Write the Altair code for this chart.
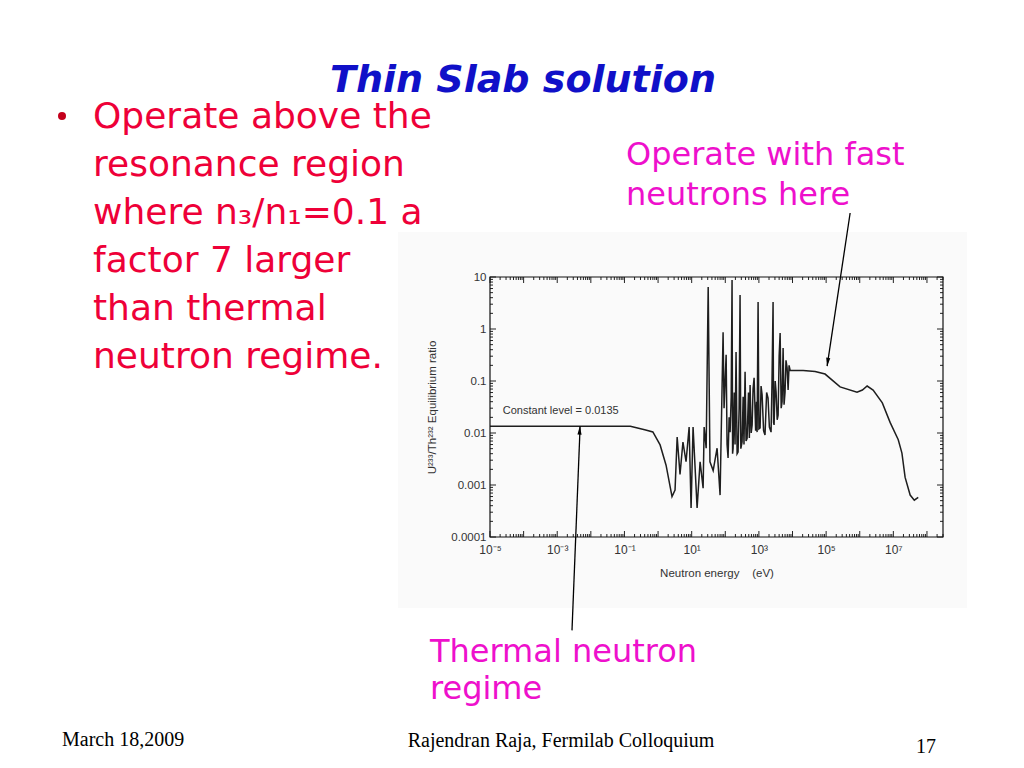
import altair as alt
import pandas as pd

# ---------------- data ----------------
energy_ev = [1e-5, 0.15, 0.4, 0.7, 1.15, 1.73, 2.6, 3.2, 3.7, 4.5, 5.5, 6.8, 8.4, 9.6, 11,
             14.5, 17.8, 21.9, 23.5, 27, 31, 35, 43.6, 57, 70,
             86, 92, 100, 106, 113, 121, 130, 139, 150, 159, 165, 171, 185, 195, 209, 225,
             240, 258, 275, 290, 316, 340, 360, 388, 415, 446, 490, 520, 547, 590, 630, 670,
             720, 800, 850, 884, 946, 1000, 1086, 1160, 1245, 1380, 1520, 1700, 1870, 2050,
             2300, 2450, 2640, 2730, 2830, 3050, 3250, 3500, 3730, 4000, 4280, 4600, 4900,
             5250, 5600, 6000, 6400, 6900, 7400, 7900, 8500,
             20700, 47000, 93000, 2.6e5, 8.3e5, 1.2e6, 1.66e6, 2.5e6, 4.7e6, 8e6, 1.4e7,
             1.8e7, 2.24e7, 3.16e7, 4.2e7, 5.5e7]
ratio = [0.0135, 0.0135, 0.0115, 0.0105, 0.0059, 0.0024, 0.0006, 0.0008, 0.0084, 0.0016,
         0.0067, 0.0028, 0.013, 0.00036, 0.013, 0.00036, 0.0028, 0.00087, 0.013, 0.0051,
         6.4, 0.0028, 0.0019, 0.0051, 0.00064,
         0.87, 0.03, 0.12, 0.32, 0.006, 0.0033, 0.02, 0.0104, 0.05, 8.8, 0.004, 0.0051,
         0.06, 0.006, 0.36, 0.004, 0.0043, 0.03, 4.5, 0.005, 0.0067, 0.05, 0.006, 0.15,
         0.007, 0.0079, 0.06, 0.008, 0.084, 0.01, 0.0143, 0.07, 0.115, 0.011, 0.04,
         0.0104, 3.3, 0.012, 0.0125, 0.08, 0.054, 0.011, 0.0092, 0.06, 0.047, 0.013,
         0.0104, 0.09, 3.3, 0.016, 0.0143, 0.1, 0.061, 0.018, 0.022, 0.3, 0.84, 0.03,
         0.04, 0.43, 0.035, 0.061, 0.25, 0.18, 0.067, 0.2, 0.16,
         0.16, 0.152, 0.136, 0.077, 0.061, 0.067, 0.08, 0.067, 0.038, 0.016, 0.0074,
         0.0041, 0.0014, 0.00064, 0.00051, 0.00058]

x_tick_values = [1e-5, 1e-3, 1e-1, 1e1, 1e3, 1e5, 1e7]
x_tick_labels = ["10⁻⁵", "10⁻³", "10⁻¹", "10¹", "10³", "10⁵", "10⁷"]
y_tick_values = [1e-4, 1e-3, 1e-2, 1e-1, 1, 10]
y_tick_labels = ["0.0001", "0.001", "0.01", "0.1", "1", "10"]

constant_label = ["Constant level = 0.0135"]
constant_pos_e = [2.4e-5]
constant_pos_r = [0.0265]

arrow_names = ["fast", "thermal"]
arrow_tail_e = [5.18e5, 2.75e-3]
arrow_tail_r = [170, 1.6e-6]
arrow_tip_e = [1.07e5, 4.8e-3]
arrow_tip_r = [0.194, 0.0135]
arrow_head_e = [1.11e5, 4.65e-3]
arrow_head_r = [0.232, 0.0112]

title_text = "Thin Slab solution"
bullet_lines = ["Operate above the", "resonance region", "where n₃/n₁=0.1 a",
                "factor 7 larger", "than thermal", "neutron regime."]
note_fast = ["Operate with fast", "neutrons here"]
note_thermal = ["Thermal neutron", "regime"]
footer_left = "March 18,2009"
footer_mid = "Rajendran Raja, Fermilab Colloquium"
footer_right = "17"

# ---------------- layout ----------------
W, H = 453, 260
x_dom = [1e-5, 3e8]
y_dom = [1e-4, 10]
x_scale = alt.Scale(type="log", domain=x_dom)
y_scale = alt.Scale(type="log", domain=y_dom)

def label_expr(values, labels):
    expr = "''"
    for v, l in reversed(list(zip(values, labels))):
        expr = f"(datum.value < {v * 1.5}) ? '{l}' : " + expr
    return expr

x_axis = alt.Axis(values=x_tick_values, labelExpr=label_expr(x_tick_values, x_tick_labels),
                  ticks=False, domain=False, grid=False, labelPadding=7, zindex=1,
                  labelFont="Liberation Sans", labelFontSize=12, labelColor="#333",
                  title="Neutron energy\u00a0\u00a0\u00a0\u00a0(eV)", titleFont="Liberation Sans",
                  titleFontSize=11.5, titleFontWeight="normal", titleColor="#333",
                  titlePadding=12, labelFlush=False)
y_axis = alt.Axis(values=y_tick_values, labelExpr=label_expr(y_tick_values, y_tick_labels),
                  ticks=False, domain=False, grid=False, labelPadding=4, zindex=1,
                  labelFont="Liberation Sans", labelFontSize=11.5, labelColor="#333",
                  title="U²³³/Th²³² Equilibrium ratio", titleFont="Liberation Sans",
                  titleFontSize=11.5, titleFontWeight="normal", titleColor="#333",
                  titlePadding=13, labelFlush=False)

def X(field):
    return alt.X(field, scale=x_scale, axis=x_axis)

def Y(field):
    return alt.Y(field, scale=y_scale, axis=y_axis)

curve_df = pd.DataFrame({"E": energy_ev, "R": ratio})
one = pd.DataFrame({"k": [0]})

backdrop = alt.Chart(one).mark_rect(fill="#fafafa").encode(
    x=alt.value(-92), x2=alt.value(477), y=alt.value(-45), y2=alt.value(331))
frame = alt.Chart(one).mark_rect(fill=None, fillOpacity=0, stroke="#111", strokeWidth=1.2).encode(
    x=alt.value(0), x2=alt.value(W), y=alt.value(0), y2=alt.value(H))

curve = alt.Chart(curve_df).mark_line(color="#1e1e1e", strokeWidth=1.5).encode(
    x=X("E:Q"), y=Y("R:Q"))

# tick marks (inward, on all four sides)
x_major = [10.0 ** k for k in range(-5, 9)]
x_minor = [m * 10.0 ** k for k in range(-5, 9) for m in range(2, 10) if m * 10.0 ** k <= x_dom[1]]
y_major = [10.0 ** k for k in range(-4, 2)]
y_minor = [m * 10.0 ** k for k in range(-4, 1) for m in range(2, 10)]

def xticks(vals, length):
    d = pd.DataFrame({"t": vals})
    b = alt.Chart(d).mark_rule(color="#222", strokeWidth=1).encode(
        x=X("t:Q"), y=alt.value(H), y2=alt.value(H - length))
    t = alt.Chart(d).mark_rule(color="#222", strokeWidth=1).encode(
        x=X("t:Q"), y=alt.value(0), y2=alt.value(length))
    return [b, t]

def yticks(vals, length):
    d = pd.DataFrame({"t": vals})
    l = alt.Chart(d).mark_rule(color="#222", strokeWidth=1).encode(
        y=Y("t:Q"), x=alt.value(0), x2=alt.value(length))
    r = alt.Chart(d).mark_rule(color="#222", strokeWidth=1).encode(
        y=Y("t:Q"), x=alt.value(W), x2=alt.value(W - length))
    return [l, r]

tick_layers = xticks(x_major, 6) + xticks(x_minor, 3) + yticks(y_major, 6) + yticks(y_minor, 3)

const_df = pd.DataFrame({"E": constant_pos_e, "R": constant_pos_r, "txt": constant_label})
const_text = alt.Chart(const_df).mark_text(align="left", baseline="middle", font="Liberation Sans",
                                           fontSize=11, color="#333").encode(
    x=X("E:Q"), y=Y("R:Q"), text="txt:N")

arrow_df = pd.DataFrame({"name": arrow_names, "e0": arrow_tail_e, "r0": arrow_tail_r,
                         "e1": arrow_tip_e, "r1": arrow_tip_r,
                         "eh": arrow_head_e, "rh": arrow_head_r})
arrow_lines = alt.Chart(arrow_df).mark_rule(color="#000", strokeWidth=1.3).encode(
    x=X("e0:Q"), y=Y("r0:Q"), x2="e1:Q", y2="r1:Q")
head_fast = alt.Chart(arrow_df).transform_filter("datum.name == 'fast'").mark_point(
    shape="M0,1L-0.5,-1L0.5,-1Z", filled=True, color="#000", size=70, angle=8, opacity=1).encode(
    x=X("eh:Q"), y=Y("rh:Q"))
head_thermal = alt.Chart(arrow_df).transform_filter("datum.name == 'thermal'").mark_point(
    shape="M0,-1L-0.5,1L0.5,1Z", filled=True, color="#000", size=70, angle=2, opacity=1).encode(
    x=X("eh:Q"), y=Y("rh:Q"))

def text_layer(txt, x, y, **kw):
    return alt.Chart(one).mark_text(text=txt, **kw).encode(x=alt.value(x), y=alt.value(y))

title = text_layer(title_text, 33, -185, align="center", baseline="alphabetic",
                   font="DejaVu Sans", fontSize=38, fontWeight="bold", fontStyle="italic",
                   color="#1010c8")
bullet_dot = alt.Chart(one).mark_circle(color="#c4001c", size=64, opacity=1).encode(
    x=alt.value(-428), y=alt.value(-161))
bullets = text_layer(bullet_lines, -397, -149, align="left", baseline="alphabetic",
                     font="DejaVu Sans", fontSize=36, lineHeight=48, color="#ee0038")
fast_note = text_layer(note_fast, 136, -112, align="left", baseline="alphabetic",
                       font="DejaVu Sans", fontSize=32, lineHeight=40, color="#ee10cc")
thermal_note = text_layer(note_thermal, -60, 385, align="left", baseline="alphabetic",
                          font="DejaVu Sans", fontSize=32, lineHeight=37, color="#ee10cc")
f_left = text_layer(footer_left, -428, 469, align="left", baseline="alphabetic",
                    font="Liberation Serif", fontSize=20, color="#000")
f_mid = text_layer(footer_mid, 71, 470, align="center", baseline="alphabetic",
                   font="Liberation Serif", fontSize=20, color="#000")
f_right = text_layer(footer_right, 436, 476, align="center", baseline="alphabetic",
                     font="Liberation Serif", fontSize=20, color="#000")

chart = alt.layer(
    backdrop, curve, *tick_layers, frame, const_text, arrow_lines, head_fast, head_thermal,
    title, bullet_dot, bullets, fast_note, thermal_note, f_left, f_mid, f_right
).properties(
    width=W, height=H,
    autosize=alt.AutoSizeParams(type="none"),
    padding={"left": 482, "top": 269, "right": 73, "bottom": 219},
    background="white",
).configure_view(stroke=None)

chart.save("out.html", embed_options={"renderer": "svg", "actions": False})
